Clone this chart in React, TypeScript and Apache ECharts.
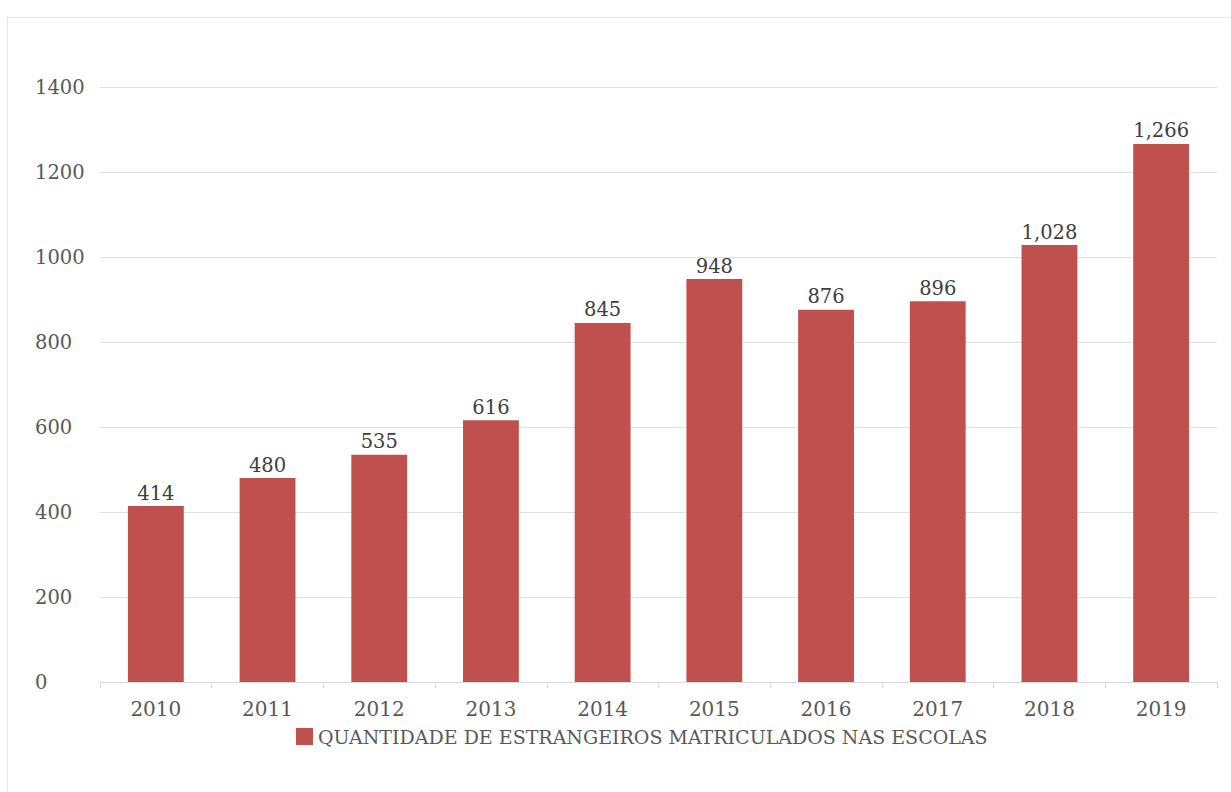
import React, { useEffect, useRef } from "react";
import * as echarts from "echarts";

const years = ["2010", "2011", "2012", "2013", "2014", "2015", "2016", "2017", "2018", "2019"];
const values = [414, 480, 535, 616, 845, 948, 876, 896, 1028, 1266];
const seriesName = "QUANTIDADE DE ESTRANGEIROS MATRICULADOS NAS ESCOLAS";

const FONT = "'DejaVu Serif', serif";

export default function App() {
  const ref = useRef<HTMLDivElement>(null);
  useEffect(() => {
    if (!ref.current) return;
    const chart = echarts.init(ref.current, undefined, { renderer: "svg" });
    chart.setOption({
      animation: false,
      backgroundColor: "#ffffff",
      textStyle: { fontFamily: FONT },
      graphic: [
        {
          type: "polyline",
          shape: { points: [[7.5, 792], [7.5, 17.5], [1231, 17.5]] },
          style: { stroke: "#e6e6e6", lineWidth: 1, fill: "none" },
        },
      ],
      grid: { left: 100, right: 14, top: 87, bottom: 110 },
      legend: {
        left: 291,
        top: 722,
        itemWidth: 17,
        itemHeight: 17,
        itemGap: 6,
        icon: "rect",
        textStyle: { fontFamily: FONT, fontSize: 19, color: "#595959" },
        data: [seriesName],
      },
      xAxis: {
        type: "category",
        data: years,
        axisLine: { lineStyle: { color: "#d9d9d9" } },
        axisTick: { show: true, length: 6, lineStyle: { color: "#d9d9d9" } },
        axisLabel: { color: "#595959", fontSize: 20, fontFamily: FONT, margin: 17 },
      },
      yAxis: {
        type: "value",
        min: 0,
        max: 1400,
        interval: 200,
        axisLine: { show: false },
        axisTick: { show: false },
        splitLine: { lineStyle: { color: "#e0e0e0" } },
        axisLabel: {
          color: "#595959",
          fontSize: 19.5,
          fontFamily: FONT,
          align: "left",
          margin: 65,
          formatter: (v: number) => String(v),
        },
      },
      series: [
        {
          name: seriesName,
          type: "bar",
          data: values,
          barWidth: "50%",
          itemStyle: { color: "#c0504d" },
          label: {
            show: true,
            position: "top",
            distance: 3,
            color: "#404040",
            fontSize: 19.5,
            fontFamily: FONT,
            formatter: (p: any) => Number(p.value).toLocaleString("en-US"),
          },
        },
      ],
    });
    return () => chart.dispose();
  }, []);
  return <div ref={ref} style={{ width: 1231, height: 792, position: "absolute", left: 0, top: 0 }} />;
}
